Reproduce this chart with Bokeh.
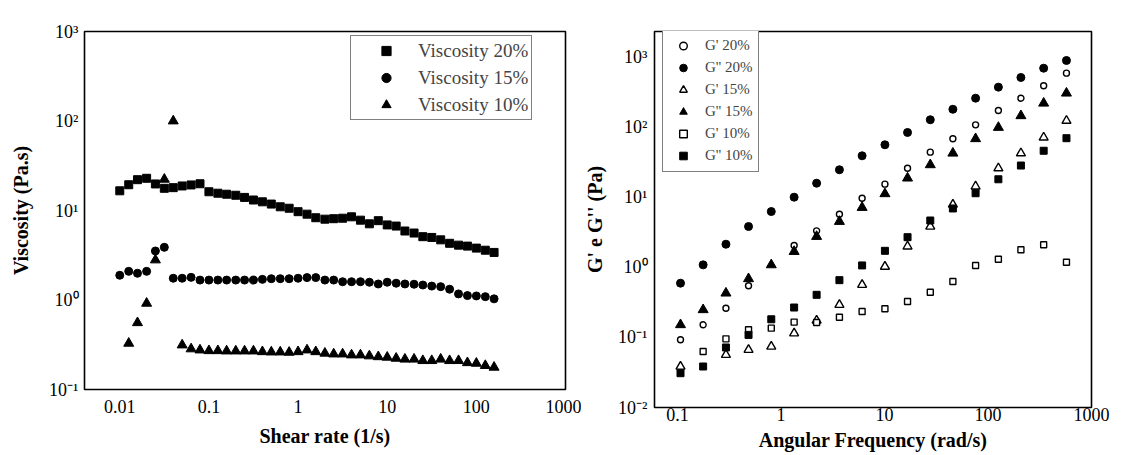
import numpy as np
from bokeh.plotting import figure
from bokeh.layouts import row
from bokeh.models import Range1d, FixedTicker, CustomJSTickFormatter, Legend, LegendItem
from bokeh.embed import file_html
from bokeh.resources import INLINE

# ---------------- data: viscosity curves (left panel) ----------------
shear_rate = [0.01, 0.0126, 0.0158, 0.02, 0.0251, 0.0316, 0.0398, 0.0501, 0.0631, 0.0794,
              0.1, 0.126, 0.158, 0.2, 0.251, 0.316, 0.398, 0.501, 0.631, 0.794,
              1, 1.26, 1.58, 2, 2.51, 3.16, 3.98, 5.01, 6.31, 7.94,
              10, 12.6, 15.8, 20, 25.1, 31.6, 39.8, 50.1, 63.1, 79.4,
              100, 126, 158]
visc_20 = [16.6, 19.4, 22.1, 22.9, 19.8, 17.7, 18.0, 18.8, 19.3, 19.9,
           16.2, 15.6, 15.2, 14.8, 14.0, 13.1, 12.5, 11.8, 11.0, 10.6,
           9.7, 9.1, 8.3, 8.0, 8.1, 8.2, 8.5, 7.8, 7.1, 7.7,
           6.9, 6.7, 5.9, 5.6, 5.1, 5.0, 4.7, 4.3, 4.1, 4.0,
           3.8, 3.6, 3.4]
visc_15 = [1.89, 2.09, 1.99, 2.09, 3.53, 3.88, 1.75, 1.75, 1.79, 1.67,
           1.67, 1.67, 1.67, 1.67, 1.67, 1.67, 1.70, 1.73, 1.73, 1.73,
           1.75, 1.78, 1.78, 1.67, 1.67, 1.60, 1.60, 1.60, 1.58, 1.51,
           1.58, 1.54, 1.51, 1.50, 1.47, 1.43, 1.41, 1.32, 1.17, 1.12,
           1.11, 1.09, 1.03]
visc_10 = [np.nan, 0.328, 0.557, 0.918, 2.80, 22.3, 100, 0.314, 0.284, 0.276,
           0.271, 0.271, 0.269, 0.269, 0.269, 0.269, 0.264, 0.262, 0.262, 0.260,
           0.264, 0.276, 0.264, 0.254, 0.249, 0.249, 0.243, 0.243, 0.237, 0.232,
           0.229, 0.223, 0.218, 0.218, 0.210, 0.210, 0.218, 0.210, 0.210, 0.199,
           0.196, 0.185, 0.177]

# ---------------- data: moduli (right panel) ----------------
ang_freq = [0.107, 0.177, 0.294, 0.486, 0.806, 1.34, 2.21, 3.67, 6.08,
            10.1, 16.7, 27.7, 45.8, 75.9, 126, 208, 345, 573]
g1_20 = [0.0927, 0.152, 0.262, 0.548, np.nan, 2.06, 3.34, 5.77, 9.77,
         15.5, 26.2, 44.4, 69.0, 109, 175, 262, 394, 597]
g2_20 = [0.597, 1.09, 2.15, 3.85, 6.3, 10.1, 16.0, 24.9, 39.4,
         56.6, 84.9, 129, 182, 262, 377, 518, 703, 906]
g1_15 = [0.0385, np.nan, 0.0566, 0.0667, 0.0743, 0.115, 0.175, 0.293, 0.566,
         1.03, 2.0, 3.85, 7.94, 14.4, 26.2, 42.9, 72, 125]
g2_15 = [0.152, 0.249, 0.430, 0.690, 1.09, 1.69, 2.77, 4.54, 7.19,
         11.3, 18.9, 29.3, 42.9, 69.0, 100, 147, 222, 309]
g1_10 = [np.nan, 0.063, 0.0957, 0.129, 0.136, 0.166, 0.164, 0.195, 0.235,
         0.257, 0.327, 0.443, 0.631, 1.07, 1.31, 1.79, 2.11, 1.19]
g2_10 = [0.0309, 0.0385, 0.0720, 0.109, 0.182, 0.268, 0.407, 0.659, 1.07,
         1.73, 2.71, 4.69, 6.97, 11.5, 18.2, 28.6, 46.5, 70.3]

left_xticks = [0.01, 0.1, 1, 10, 100, 1000]
left_yticks = [0.1, 1, 10, 100, 1000]
right_xticks = [0.1, 1, 10, 100, 1000]
right_yticks = [0.01, 0.1, 1, 10, 100, 1000]

SERIF = "Liberation Serif"

pow_fmt = CustomJSTickFormatter(code="""
const e = Math.round(Math.log10(tick));
const sup = {"-":"\u207b","0":"\u2070","1":"\u00b9","2":"\u00b2","3":"\u00b3"};
return "10" + String(e).split("").map(c => sup[c]).join("");
""")
dec_fmt = CustomJSTickFormatter(code="return String(tick);")


def style(p, xlabel, ylabel, xticks, yticks, xs_off, ys_off, xl_off, yl_off):
    p.xgrid.visible = False
    p.ygrid.visible = False
    p.outline_line_color = "black"
    p.outline_line_width = 1.6
    p.outline_line_alpha = 1.0
    for ax in (p.xaxis[0], p.yaxis[0]):
        ax.axis_line_color = None
        ax.major_tick_line_color = None
        ax.minor_tick_line_color = None
        ax.major_tick_out = 0
        ax.major_tick_in = 0
        ax.minor_tick_out = 0
        ax.minor_tick_in = 0
        ax.major_label_text_font = SERIF
        ax.major_label_text_font_size = "18px"
        ax.major_label_text_color = "black"
        ax.axis_label_text_font = SERIF
        ax.axis_label_text_font_style = "bold"
        ax.axis_label_text_font_size = "20px"
        ax.axis_label_text_color = "black"
    p.xaxis[0].axis_label = xlabel
    p.yaxis[0].axis_label = ylabel
    p.xaxis[0].ticker = FixedTicker(ticks=xticks)
    p.yaxis[0].ticker = FixedTicker(ticks=yticks)
    p.xaxis[0].formatter = dec_fmt
    p.yaxis[0].formatter = pow_fmt
    p.xaxis[0].major_label_standoff = xs_off
    p.yaxis[0].major_label_standoff = ys_off
    p.xaxis[0].axis_label_standoff = xl_off
    p.yaxis[0].axis_label_standoff = yl_off


# ---------------- left panel ----------------
p1 = figure(x_axis_type="log", y_axis_type="log",
            x_range=Range1d(0.00402, 1000), y_range=Range1d(0.1, 1000),
            frame_width=481, frame_height=358,
            min_border_left=84, min_border_right=16, min_border_top=31, min_border_bottom=66,
            output_backend="svg", toolbar_location=None, background_fill_color="white",
            border_fill_color="white")
style(p1, "Shear rate (1/s)", "Viscosity (Pa.s)", left_xticks, left_yticks, 10, 6, 9, 14)

r20 = p1.scatter(shear_rate, visc_20, marker="square", size=8, color="black")
r15 = p1.scatter(shear_rate, visc_15, marker="circle", size=8, color="black")
r10 = p1.scatter(shear_rate, visc_10, marker="triangle", size=10, color="black")

leg1 = Legend(items=[LegendItem(label="Viscosity 20%", renderers=[r20]),
                     LegendItem(label="Viscosity 15%", renderers=[r15]),
                     LegendItem(label="Viscosity 10%", renderers=[r10])],
              location=(266, 269), margin=0, padding=3, spacing=4,
              glyph_width=64, glyph_height=23, label_height=23, label_standoff=0,
              label_text_font=SERIF, label_text_font_size="19px",
              border_line_color="black", border_line_width=1.5,
              background_fill_color="white", background_fill_alpha=1.0)
p1.add_layout(leg1)

# ---------------- right panel ----------------
p2 = figure(x_axis_type="log", y_axis_type="log",
            x_range=Range1d(0.06, 1000), y_range=Range1d(0.01, 2350),
            frame_width=437, frame_height=376,
            min_border_left=71, min_border_right=30, min_border_top=25, min_border_bottom=53,
            output_backend="svg", toolbar_location=None, background_fill_color="white",
            border_fill_color="white")
style(p2, "Angular Frequency (rad/s)", "G' e G'' (Pa)", right_xticks, right_yticks, 0, 7, 5, 9)

a = p2.scatter(ang_freq, g1_20, marker="circle", size=6, fill_color="white", line_color="black", line_width=1.4)
b = p2.scatter(ang_freq, g2_20, marker="circle", size=8, color="black")
c = p2.scatter(ang_freq, g1_15, marker="triangle", size=9, fill_color="white", line_color="black", line_width=1.4)
d = p2.scatter(ang_freq, g2_15, marker="triangle", size=10, color="black")
e = p2.scatter(ang_freq, g1_10, marker="square", size=6, fill_color="white", line_color="black", line_width=1.4)
f = p2.scatter(ang_freq, g2_10, marker="square", size=7, color="black")

leg2 = Legend(items=[LegendItem(label="G' 20%", renderers=[a]),
                     LegendItem(label="G'' 20%", renderers=[b]),
                     LegendItem(label="G' 15%", renderers=[c]),
                     LegendItem(label="G'' 15%", renderers=[d]),
                     LegendItem(label="G' 10%", renderers=[e]),
                     LegendItem(label="G'' 10%", renderers=[f])],
              location=(8, 235), margin=0, padding=6, spacing=3,
              glyph_width=28, glyph_height=19, label_height=19, label_standoff=8,
              label_text_font=SERIF, label_text_font_size="15px",
              border_line_color="black", border_line_width=1.5,
              background_fill_color="white", background_fill_alpha=1.0)
p2.add_layout(leg2)

layout = row(p1, p2, spacing=0)
open("out.html", "w").write(file_html(layout, INLINE))
